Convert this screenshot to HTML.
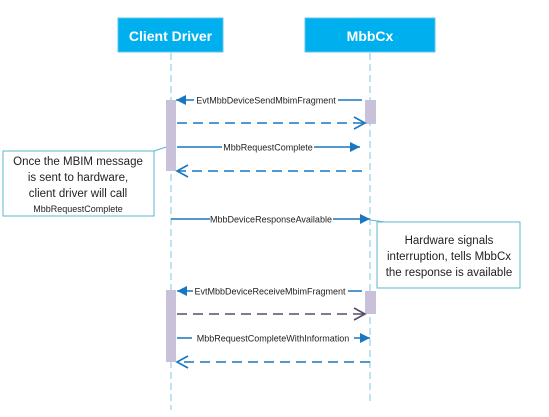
<!DOCTYPE html>
<html><head><style>
html,body{margin:0;padding:0;background:#fff;}
svg{display:block;font-family:"Liberation Sans",sans-serif;}
</style></head><body>
<svg width="549" height="417" viewBox="0 0 549 417" xmlns="http://www.w3.org/2000/svg">
<defs>
<marker id="f" viewBox="0 0 10 10" refX="10" refY="5" markerWidth="10" markerHeight="10" markerUnits="userSpaceOnUse" orient="auto"><path d="M0,0 L10,5 L0,10 z" fill="#1976c0"/></marker>
</defs>
<!-- headers -->
<rect x="118" y="18" width="105" height="34" fill="#00b0ee" stroke="#5fc4ea"/>
<text x="170.5" y="41" text-anchor="middle" font-size="14" font-weight="bold" fill="#fff">Client Driver</text>
<rect x="305" y="18" width="130" height="34" fill="#00b0ee" stroke="#5fc4ea"/>
<text x="370" y="41" text-anchor="middle" font-size="14" font-weight="bold" fill="#fff">MbbCx</text>
<!-- lifelines -->
<line x1="171" y1="53" x2="171" y2="410" stroke="#7ec8dc" stroke-dasharray="7,4"/>
<line x1="370" y1="53" x2="370" y2="405" stroke="#7ec8dc" stroke-dasharray="7,4"/>
<!-- activations -->
<rect x="166" y="100" width="10" height="71" fill="#c9c0d9"/>
<rect x="365" y="100" width="11" height="24" fill="#c9c0d9"/>
<rect x="166" y="290" width="10" height="72" fill="#c9c0d9"/>
<rect x="365" y="291" width="11" height="23" fill="#c9c0d9"/>
<g stroke="#1976c0" stroke-width="1.6" fill="none">
<line x1="362" y1="100" x2="176" y2="100" marker-end="url(#f)"/>
<line x1="177" y1="123" x2="364" y2="123" stroke-dasharray="10,6"/>
<polyline points="354,117 365,123 354,129"/>
<line x1="177" y1="147" x2="360" y2="147" marker-end="url(#f)"/>
<line x1="362" y1="171" x2="178" y2="171" stroke-dasharray="10,6"/>
<polyline points="188,165 177,171 188,177"/>
<line x1="171" y1="219" x2="370" y2="219" marker-end="url(#f)"/>
<line x1="362" y1="291" x2="177" y2="291" marker-end="url(#f)"/>
<line x1="177" y1="338" x2="370" y2="338" marker-end="url(#f)"/>
<line x1="370" y1="362" x2="178" y2="362" stroke-dasharray="10,6"/>
<polyline points="188,356 177,362 188,368"/>
</g>
<g stroke="#5a4a6e" stroke-width="1.6" fill="none">
<line x1="177" y1="314" x2="364" y2="314" stroke-dasharray="10,6"/>
<polyline points="354,308 365,314 354,320"/>
</g>
<!-- labels -->
<g font-size="9" fill="#222" text-anchor="middle">
<rect x="194" y="94" width="144" height="11" fill="#fff"/>
<text x="266" y="103.5">EvtMbbDeviceSendMbimFragment</text>
<rect x="222" y="141" width="92" height="11" fill="#fff"/>
<text x="268" y="150.5">MbbRequestComplete</text>
<rect x="210" y="213" width="123" height="11" fill="#fff"/>
<text x="271" y="222.5">MbbDeviceResponseAvailable</text>
<rect x="193" y="285" width="155" height="11" fill="#fff"/>
<text x="270" y="294.5">EvtMbbDeviceReceiveMbimFragment</text>
<rect x="192" y="332" width="162" height="11" fill="#fff"/>
<text x="273" y="341.5">MbbRequestCompleteWithInformation</text>
</g>
<!-- notes -->
<line x1="154" y1="151" x2="166" y2="147" stroke="#5bb8cf"/>
<rect x="3" y="151" width="151" height="65" fill="#fff" stroke="#5bb8cf"/>
<g font-size="11.5" fill="#222" text-anchor="middle">
<text x="78" y="165">Once the MBIM message</text>
<text x="78" y="181">is sent to hardware,</text>
<text x="78" y="197">client driver will call</text>
<text x="78" y="212" font-size="9">MbbRequestComplete</text>
</g>
<line x1="370" y1="220" x2="385" y2="222" stroke="#5bb8cf"/>
<rect x="377" y="222" width="143" height="66" fill="#fff" stroke="#5bb8cf"/>
<g font-size="11.5" fill="#222" text-anchor="middle">
<text x="449" y="244">Hardware signals</text>
<text x="449" y="260">interruption, tells MbbCx</text>
<text x="449" y="276">the response is available</text>
</g>
</svg>
</body></html>
